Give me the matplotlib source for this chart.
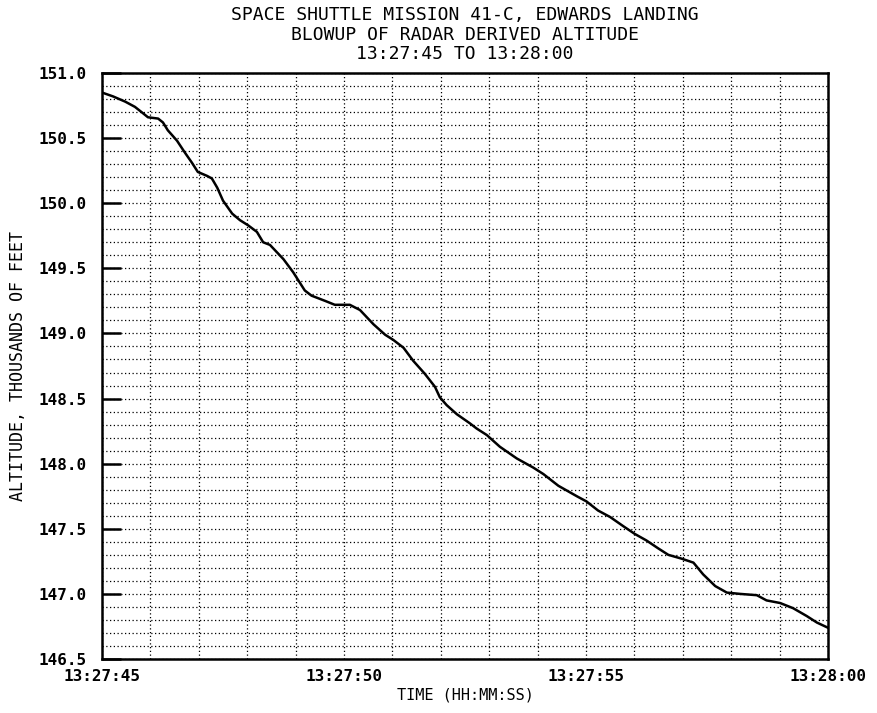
import matplotlib
matplotlib.use('Agg')
import matplotlib.pyplot as plt
from matplotlib.ticker import MultipleLocator

# seconds after 13:27:45 and radar altitude (thousands of feet)
seconds = [0.00, 0.23, 0.48, 0.68, 0.85, 0.95, 1.16, 1.26, 1.36, 1.55, 1.71, 1.86,
           1.98, 2.17, 2.27, 2.38, 2.50, 2.69, 2.85, 3.02, 3.20, 3.33, 3.47, 3.75,
           3.95, 4.19, 4.33, 4.61, 4.81, 5.12, 5.33, 5.61, 5.85, 6.02, 6.23, 6.43,
           6.67, 6.88, 6.98, 7.12, 7.33, 7.60, 7.74, 7.95, 8.22, 8.57, 8.91, 9.12,
           9.43, 9.81, 10.01, 10.25, 10.50, 10.77, 11.01, 11.25, 11.49, 11.70,
           11.98, 12.22, 12.42, 12.67, 12.91, 13.18, 13.53, 13.73, 14.01, 14.28,
           14.56, 14.77, 15.00]
altitude = [150.85, 150.82, 150.78, 150.74, 150.69, 150.66, 150.65, 150.62, 150.56,
            150.48, 150.39, 150.31, 150.24, 150.21, 150.19, 150.12, 150.02, 149.92,
            149.87, 149.83, 149.78, 149.70, 149.68, 149.57, 149.47, 149.33, 149.29,
            149.25, 149.22, 149.22, 149.18, 149.07, 148.99, 148.95, 148.89, 148.79,
            148.69, 148.59, 148.51, 148.45, 148.38, 148.31, 148.27, 148.22, 148.13,
            148.04, 147.97, 147.92, 147.83, 147.75, 147.71, 147.64, 147.59, 147.52,
            147.46, 147.41, 147.35, 147.30, 147.27, 147.24, 147.15, 147.06, 147.01,
            147.00, 146.99, 146.95, 146.93, 146.89, 146.83, 146.78, 146.74]

x_ticks = [0, 5, 10, 15]
x_tick_labels = ['13:27:45', '13:27:50', '13:27:55', '13:28:00']
y_ticks = [146.5, 147.0, 147.5, 148.0, 148.5, 149.0, 149.5, 150.0, 150.5, 151.0]

title_lines = ['SPACE SHUTTLE MISSION 41-C, EDWARDS LANDING',
               'BLOWUP OF RADAR DERIVED ALTITUDE',
               '13:27:45 TO 13:28:00']

plt.rcParams['font.family'] = ['DejaVu Sans Mono']

fig = plt.figure(figsize=(8.78, 7.13), dpi=100)
ax = fig.add_axes([102/878, 1 - 659/713, 726/878, 586/713])

ax.plot(seconds, altitude, color='black', linewidth=1.8)

ax.set_xlim(0, 15)
ax.set_ylim(146.5, 151.0)

# dotted grid: every second, every 100 ft
ax.xaxis.set_minor_locator(MultipleLocator(1))
ax.yaxis.set_minor_locator(MultipleLocator(0.1))
ax.grid(which='both', color='black', linestyle=(0, (1, 2)), linewidth=0.9)

ax.set_xticks(x_ticks)
ax.set_xticklabels(x_tick_labels, fontsize=11.5, fontweight='bold')
ax.set_yticks(y_ticks)
ax.set_yticklabels([f'{v:.1f}' for v in y_ticks], fontsize=11.5, fontweight='bold')

ax.tick_params(axis='x', which='both', length=0, pad=7)
ax.tick_params(axis='y', which='major', direction='in', length=14, width=1.8, pad=11)
ax.tick_params(axis='y', which='minor', length=0)

for side in ax.spines.values():
    side.set_linewidth(1.8)

ax.set_xlabel('TIME (HH:MM:SS)', fontsize=11, labelpad=3)
ax.set_ylabel('ALTITUDE, THOUSANDS OF FEET', fontsize=12, labelpad=8)

for i, line in enumerate(title_lines):
    fig.text(465/878, 1 - (15 + 19.5*i)/713, line, ha='center', va='center', fontsize=13)

plt.savefig('out.png', dpi=100)
